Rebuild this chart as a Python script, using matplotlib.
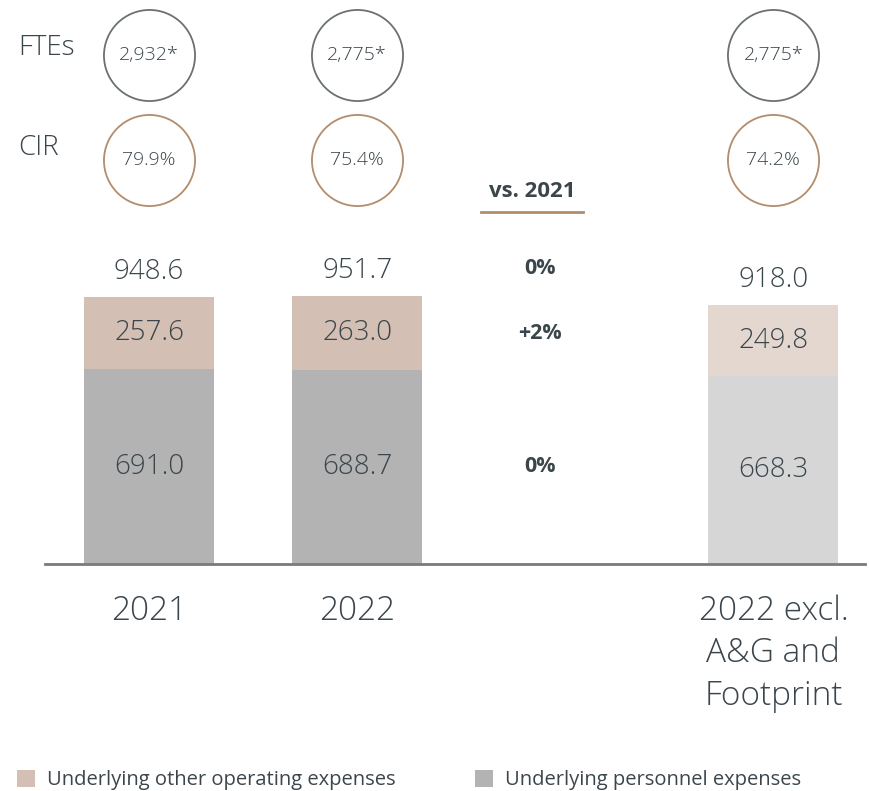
import matplotlib
matplotlib.use("Agg")
import matplotlib.pyplot as plt
import numpy as np

categories = ["2021", "2022", "2022 excl.\nA&G and\nFootprint"]
positions = [0, 1, 3]
personnel = [691.0, 688.7, 668.3]
other_opex = [257.6, 263.0, 249.8]
totals = [948.6, 951.7, 918.0]
ftes = ["2,932*", "2,775*", "2,775*"]
cir = ["79.9%", "75.4%", "74.2%"]
changes = ["0%", "+2%", "0%"]  # total, other opex, personnel vs. 2021

TXT = "#3b464c"
C_OTHER = ["#d3bfb3", "#d3bfb3", "#e4d7d0"]
C_PERS = ["#b3b3b3", "#b3b3b3", "#d6d6d6"]
C_BROWN = "#b38c6c"
C_GREY = "#6b7073"

plt.rcParams["font.family"] = ["Open Sans", "DejaVu Sans"]

fig = plt.figure(figsize=(8.69, 7.91), dpi=100)
ax = fig.add_axes([45 / 869, 1 - 564 / 791, 820 / 869, 564 / 791])

w = 0.625
bp = ax.bar(positions, personnel, w, color=C_PERS, label="Underlying personnel expenses")
bo = ax.bar(positions, other_opex, w, bottom=personnel, color=C_OTHER,
            label="Underlying other operating expenses")

for x, p, o, t in zip(positions, personnel, other_opex, totals):
    ax.text(x, p / 2, f"{p:.1f}", ha="center", va="center", fontsize=20, color=TXT, fontweight="light")
    ax.text(x, p + o / 2, f"{o:.1f}", ha="center", va="center", fontsize=20, color=TXT, fontweight="light")
    ax.annotate(f"{t:.1f}", (x, t), xytext=(0, 8), textcoords="offset points",
                ha="center", va="bottom", fontsize=20, color=TXT, fontweight="light")

# change vs. 2021 column
xc = 1.88
ax.annotate(changes[0], (xc, totals[0]), xytext=(0, 13), textcoords="offset points",
            ha="center", va="bottom", fontsize=15.5, fontweight="bold", color=TXT)
ax.text(xc, personnel[0] + other_opex[0] / 2, changes[1], ha="center", va="center",
        fontsize=15.5, fontweight="bold", color=TXT)
ax.text(xc, personnel[0] / 2, changes[2], ha="center", va="center",
        fontsize=15.5, fontweight="bold", color=TXT)
tr = ax.get_xaxis_transform()
ax.text(1.84, 0.66, "vs. 2021", transform=tr, ha="center", va="center",
        fontsize=16, fontweight="bold", color=TXT)
ax.plot([1.84 - 0.243, 1.84 + 0.243], [0.624, 0.624], transform=tr, color=C_BROWN, lw=2, clip_on=False)

# FTE / CIR circles
ax.scatter(positions, [0.902] * 3, s=4300, transform=tr, facecolor="white",
           edgecolor=C_GREY, linewidth=1.3, clip_on=False, zorder=3)
ax.scatter(positions, [0.716] * 3, s=4300, transform=tr, facecolor="white",
           edgecolor=C_BROWN, linewidth=1.3, clip_on=False, zorder=3)
for x, f, c in zip(positions, ftes, cir):
    ax.text(x, 0.902, f, transform=tr, ha="center", va="center", fontsize=14,
            color=TXT, fontweight="light", zorder=4)
    ax.text(x, 0.716, c, transform=tr, ha="center", va="center", fontsize=14,
            color=TXT, fontweight="light", zorder=4)
fig.text(18 / 869, 1 - 48 / 791, "FTEs", ha="left", va="center", fontsize=20, color=TXT, fontweight="light")
fig.text(18 / 869, 1 - 148 / 791, "CIR", ha="left", va="center", fontsize=20, color=TXT, fontweight="light")

ax.set_xlim(-0.5, 3.44)
ax.set_ylim(0, 2003)
ax.set_xticks(positions)
ax.set_xticklabels(categories, fontsize=24, color=TXT, fontweight="light", linespacing=1.35, va="top")
ax.tick_params(axis="x", length=0, pad=22)
ax.set_yticks([])
for s in ["top", "left", "right"]:
    ax.spines[s].set_visible(False)
ax.spines["bottom"].set_color("#7a7a7a")
ax.spines["bottom"].set_linewidth(2)

fig.legend(handles=[bo, bp], loc="lower left", bbox_to_anchor=(-1 / 869, -0.022), ncol=2,
           frameon=False, fontsize=14.5, handlelength=0.9, handleheight=0.9,
           handletextpad=0.6, columnspacing=3.9, labelcolor=TXT)

fig.savefig("out.png", dpi=100)
